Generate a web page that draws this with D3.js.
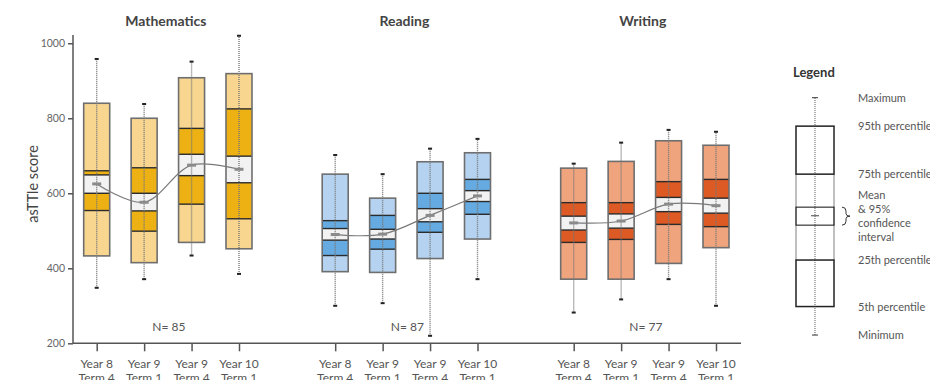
<!DOCTYPE html>
<meta charset="utf-8">
<style>
body { margin: 0; background: #fff; }
text { font-family: Lato, "Open Sans", sans-serif; }
.axis text { fill: #666; font-size: 10.5px; }
.axis line, .axis path { stroke: #555; stroke-width: 1.5; }
</style>
<body>
<script src="https://cdn.jsdelivr.net/npm/d3@7"></script>
<script>

var subjects = ["Mathematics", "Reading", "Writing"];
var terms = ["Year 8 Term 4", "Year 9 Term 1", "Year 9 Term 4", "Year 10 Term 1"];
var termLines = [["Year 8", "Term 4"], ["Year 9", "Term 1"], ["Year 9", "Term 4"], ["Year 10", "Term 1"]];
var counts = [85, 87, 77];
var yTicks = [200, 400, 600, 800, 1000];

// each row: min, p5, p25, ci low, mean, ci high, p75, p95, max
var mathematics = [
  [348, 433, 554, 600, 625, 649, 660, 840, 958],
  [371, 415, 499, 553, 576, 600, 668, 800, 838],
  [434, 469, 571, 647, 675, 704, 773, 908, 951],
  [385, 452, 532, 628, 664, 699, 825, 919, 1020]
];
var reading = [
  [300, 391, 434, 475, 490, 506, 527, 651, 702],
  [307, 389, 451, 478, 491, 504, 541, 587, 651],
  [220, 426, 496, 524, 541, 559, 600, 684, 719],
  [371, 478, 544, 578, 593, 607, 637, 708, 745]
];
var writing = [
  [282, 371, 469, 502, 521, 539, 575, 667, 679],
  [317, 371, 477, 507, 526, 545, 575, 685, 735],
  [371, 413, 517, 551, 571, 589, 631, 740, 769],
  [300, 455, 511, 547, 567, 587, 637, 728, 764]
];
var lightColors = ["#f8d690", "#b5d3f0", "#efa47e"];
var darkColors = ["#edb113", "#65aae0", "#dd5a24"];

// legend schematic, same order as rows above
var legendStats = [222, 298, 422, 515, 540, 563, 651, 779, 855];
var legendLabels = ["Minimum", "5th percentile", "25th percentile", null, null, null, "75th percentile", "95th percentile", "Maximum"];
var ciLabel = ["Mean", "& 95%", "confidence", "interval"];

var allData = [mathematics, reading, writing];

var svg = d3.select("body").append("svg")
    .attr("width", 930)
    .attr("height", 380);

var y = d3.scaleLinear().domain([200, 1022]).range([343.3, 35]);
var outer = d3.scaleBand().domain(subjects).range([73, 788.5]);
var inner = d3.scalePoint().domain(terms).range([23.7, 166]);
var boxW = 26;

function xc(s, t) { return outer(s) + inner(t); }

// y axis
svg.append("g")
    .attr("class", "axis")
    .attr("transform", "translate(73,0)")
    .call(d3.axisLeft(y).tickValues(yTicks).tickFormat(d3.format("d"))
        .tickSize(5).tickPadding(3).tickSizeOuter(0))
    .select(".domain").attr("d", "M0," + y(1022) + "V" + y(200));

svg.append("text")
    .attr("transform", "translate(38," + 184 + ") rotate(-90)")
    .attr("text-anchor", "middle")
    .attr("font-size", 14.5)
    .attr("fill", "#444")
    .text("asTTle score");

// x baseline
svg.append("line")
    .attr("x1", 73).attr("x2", xc("Writing", terms[3]) + 25)
    .attr("y1", y(200)).attr("y2", y(200))
    .attr("stroke", "#555").attr("stroke-width", 1.5);

subjects.forEach(function(s, si) {
  var rows = allData[si];
  var g = svg.append("g");
  var mid = outer(s) + (inner.range()[0] + inner.range()[1]) / 2;

  g.append("text")
      .attr("x", mid - 2).attr("y", 26)
      .attr("text-anchor", "middle")
      .attr("font-size", 14)
      .attr("font-weight", "bold")
      .attr("fill", "#444")
      .text(s);

  g.append("text")
      .attr("x", mid + 1).attr("y", 331)
      .attr("text-anchor", "middle")
      .attr("font-size", 12)
      .attr("fill", "#555")
      .text("N= " + counts[si]);

  var ax = g.append("g")
      .attr("class", "axis")
      .attr("transform", "translate(" + outer(s) + "," + y(200) + ")")
      .call(d3.axisBottom(inner).tickSize(8).tickFormat(""));
  ax.select(".domain").remove();

  terms.forEach(function(t, ti) {
    var cx = xc(s, t);
    var lbl = g.append("text")
        .attr("x", cx).attr("y", 368)
        .attr("text-anchor", "middle")
        .attr("font-size", 12)
        .attr("fill", "#555");
    lbl.append("tspan").attr("x", cx).text(termLines[ti][0]);
    lbl.append("tspan").attr("x", cx).attr("dy", 14).text(termLines[ti][1]);
  });

  rows.forEach(function(d, ti) {
    var cx = xc(s, terms[ti]);
    var segs = [
      [d[1], d[2], lightColors[si]],
      [d[2], d[3], darkColors[si]],
      [d[3], d[5], "#f2f2f2"],
      [d[5], d[6], darkColors[si]],
      [d[6], d[7], lightColors[si]]
    ];
    g.selectAll(null).data(segs).enter().append("rect")
        .attr("x", cx - boxW / 2)
        .attr("width", boxW)
        .attr("y", function(p) { return y(p[1]); })
        .attr("height", function(p) { return y(p[0]) - y(p[1]); })
        .attr("fill", function(p) { return p[2]; });

    g.selectAll(null).data([d[2], d[3], d[5], d[6]]).enter().append("line")
        .attr("x1", cx - boxW / 2).attr("x2", cx + boxW / 2)
        .attr("y1", function(v) { return y(v); })
        .attr("y2", function(v) { return y(v); })
        .attr("stroke", "#2b2b2b").attr("stroke-width", 1.4);

    g.append("rect")
        .attr("x", cx - boxW / 2).attr("width", boxW)
        .attr("y", y(d[7])).attr("height", y(d[1]) - y(d[7]))
        .attr("fill", "none")
        .attr("stroke", "#6e6e6e").attr("stroke-width", 1.6);

    g.append("line")
        .attr("x1", cx).attr("x2", cx)
        .attr("y1", y(d[0])).attr("y2", y(d[8]))
        .attr("stroke", "#777").attr("stroke-width", 1.4)
        .attr("stroke-dasharray", "1,1");

    g.selectAll(null).data([d[0], d[8]]).enter().append("rect")
        .attr("x", cx - 2).attr("width", 4)
        .attr("y", function(v) { return y(v) - 1; })
        .attr("height", 2)
        .attr("fill", "#222");
  });

  g.append("path")
      .datum(rows)
      .attr("fill", "none")
      .attr("stroke", "#7a7a7a")
      .attr("stroke-width", 1.2)
      .attr("d", d3.line()
          .x(function(d, i) { return xc(s, terms[i]); })
          .y(function(d) { return y(d[4]); })
          .curve(d3.curveCatmullRom));

  g.selectAll(null).data(rows).enter().append("rect")
      .attr("x", function(d, i) { return xc(s, terms[i]) - 4.5; })
      .attr("width", 9)
      .attr("y", function(d) { return y(d[4]) - 1.5; })
      .attr("height", 3)
      .attr("fill", "#8a8a8a");
});

// legend
var lx = 815, lw = 38;
var lg = svg.append("g");

lg.append("text")
    .attr("x", 793).attr("y", 77)
    .attr("font-size", 13)
    .attr("font-weight", "bold")
    .attr("fill", "#333")
    .text("Legend");

lg.append("line")
    .attr("x1", lx).attr("x2", lx)
    .attr("y1", y(legendStats[0])).attr("y2", y(legendStats[8]))
    .attr("stroke", "#777").attr("stroke-width", 1.2)
    .attr("stroke-dasharray", "1,1");

lg.selectAll(null).data([legendStats[0], legendStats[8]]).enter().append("line")
    .attr("x1", lx - 3).attr("x2", lx + 3)
    .attr("y1", function(v) { return y(v); })
    .attr("y2", function(v) { return y(v); })
    .attr("stroke", "#555").attr("stroke-width", 1.2);

// middle sides in grey
lg.selectAll(null).data([lx - lw / 2, lx + lw / 2]).enter().append("line")
    .attr("x1", function(v) { return v; }).attr("x2", function(v) { return v; })
    .attr("y1", y(legendStats[6])).attr("y2", y(legendStats[2]))
    .attr("stroke", "#aaa").attr("stroke-width", 1.5);

lg.selectAll(null).data([[legendStats[6], legendStats[7]], [legendStats[1], legendStats[2]]]).enter().append("rect")
    .attr("x", lx - lw / 2).attr("width", lw)
    .attr("y", function(p) { return y(p[1]); })
    .attr("height", function(p) { return y(p[0]) - y(p[1]); })
    .attr("fill", "none")
    .attr("stroke", "#222").attr("stroke-width", 1.5);

lg.append("rect")
    .attr("x", lx - lw / 2).attr("width", lw)
    .attr("y", y(legendStats[5]))
    .attr("height", y(legendStats[3]) - y(legendStats[5]))
    .attr("fill", "none")
    .attr("stroke", "#222").attr("stroke-width", 1.1);

lg.append("line")
    .attr("x1", lx - 4).attr("x2", lx + 4)
    .attr("y1", y(legendStats[4])).attr("y2", y(legendStats[4]))
    .attr("stroke", "#444").attr("stroke-width", 1);

var bt = y(legendStats[5]), bb = y(legendStats[3]), bm = (bt + bb) / 2;
lg.append("path")
    .attr("d", "M842," + bt + "q4,0 4,4V" + (bm - 2.5) + "q0,2.5 4,2.5q-4,0 -4,2.5V" + (bb - 4) + "q0,4 -4,4")
    .attr("fill", "none")
    .attr("stroke", "#333").attr("stroke-width", 1);

lg.selectAll(null).data(legendStats.map(function(v, i) { return [v, legendLabels[i]]; })
      .filter(function(p) { return p[1]; }))
  .enter().append("text")
    .attr("x", 858)
    .attr("y", function(p) { return y(p[0]) + 4; })
    .attr("font-size", 11)
    .attr("fill", "#555")
    .text(function(p) { return p[1]; });

lg.selectAll(null).data(ciLabel).enter().append("text")
    .attr("x", 858)
    .attr("y", function(d, i) { return bm + 4 + (i - 1.5) * 14; })
    .attr("font-size", 11)
    .attr("fill", "#555")
    .text(function(d) { return d; });

</script>
</body>
